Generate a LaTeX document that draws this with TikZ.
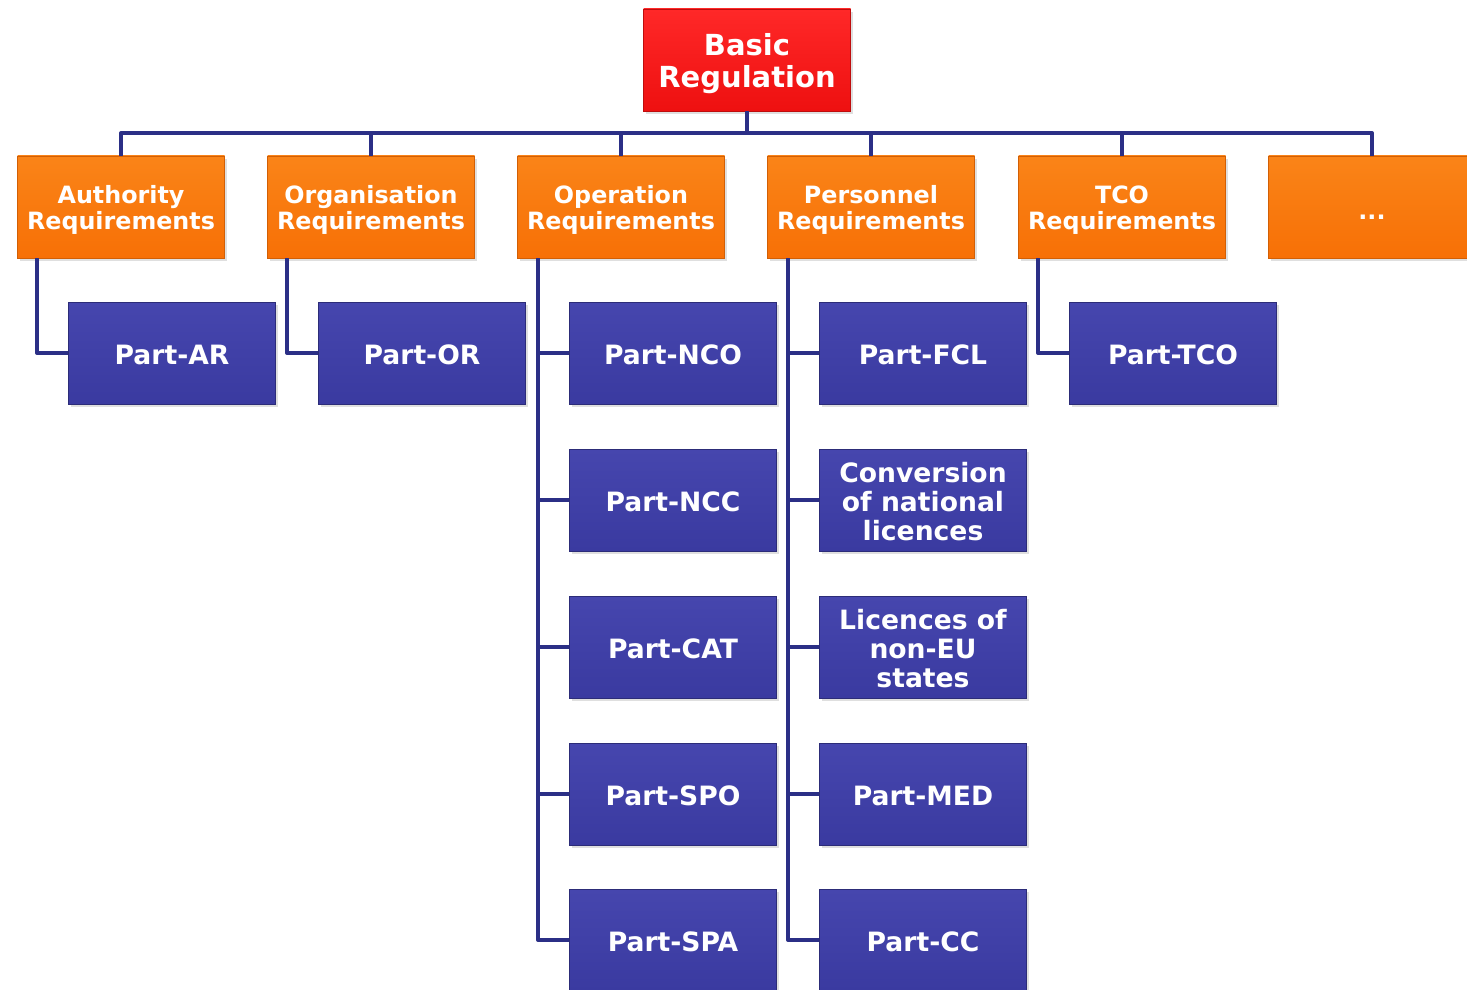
\documentclass[tikz,border=0pt]{standalone}
\usepackage{fontspec}
\setmainfont{DejaVu Sans}
\usetikzlibrary{shadows}
\definecolor{navy}{HTML}{2B2F86}
\definecolor{boxblue}{HTML}{3A3AA0}
\definecolor{boxblueT}{HTML}{4646AE}
\definecolor{boxorange}{HTML}{F77006}
\definecolor{boxorangeT}{HTML}{FA8418}
\definecolor{boxred}{HTML}{EE1010}
\definecolor{boxredT}{HTML}{FF2828}
\tikzset{
  basebox/.style={rectangle, inner sep=0pt, minimum width=103.5pt, minimum height=51pt,
    drop shadow={opacity=0.25, shadow xshift=1pt, shadow yshift=-1.5pt}},
  txt/.style={text=white, align=center, inner sep=0pt},
  redbox/.style={basebox, top color=boxredT, bottom color=boxred, draw=boxred!80!black, line width=0.4pt,
    label={[txt, yshift=-2pt, font=\bfseries\fontsize{14.5pt}{16pt}\selectfont]center:{#1}}},
  orangebox/.style={basebox, top color=boxorangeT, bottom color=boxorange, draw=boxorange!85!black, line width=0.4pt,
    label={[txt, yshift=-1.5pt, font=\bfseries\fontsize{11.9pt}{13pt}\selectfont]center:{#1}}},
  bluebox/.style={basebox, top color=boxblueT, bottom color=boxblue, draw=boxblue!75!black, line width=0.4pt,
    label={[txt, yshift=-1pt, font=\bfseries\fontsize{13.3pt}{14.5pt}\selectfont]center:{#1}}},
  link/.style={draw=navy, line width=2pt, line join=round},
}
\begin{document}
\begin{tikzpicture}[x=0.5pt, y=-0.5pt]
\useasboundingbox (0,0) rectangle (1467,990);
\clip (0,0) rectangle (1467,990);
% root
\node[redbox={Basic\\Regulation}] (br) at (747,60) {};
% second level
\node[orangebox={Authority\\Requirements}] (auth) at (121,207) {};
\node[orangebox={Organisation\\Requirements}] (org)  at (371,207) {};
\node[orangebox={Operation\\Requirements}] (op)   at (621,207) {};
\node[orangebox={Personnel\\Requirements}] (pers) at (871,207) {};
\node[orangebox={TCO\\Requirements}] (tco)  at (1122,207) {};
\node[basebox, top color=boxorangeT, bottom color=boxorange, draw=boxorange!85!black, line width=0.4pt,
  label={[txt, yshift=-5pt, font=\bfseries\fontsize{11.9pt}{13pt}\selectfont]center:{...}}] (dots) at (1372,207) {};
% third level
\node[bluebox={Part-AR}] (ar)  at (172,353) {};
\node[bluebox={Part-OR}] (or)  at (422,353) {};
\node[bluebox={Part-NCO}] (nco) at (673,353) {};
\node[bluebox={Part-NCC}] (ncc) at (673,500) {};
\node[bluebox={Part-CAT}] (cat) at (673,647) {};
\node[bluebox={Part-SPO}] (spo) at (673,794) {};
\node[bluebox={Part-SPA}] (spa) at (673,940) {};
\node[bluebox={Part-FCL}] (fcl) at (923,353) {};
\node[bluebox={Conversion\\of national\\licences}] (conv) at (923,500) {};
\node[bluebox={Licences of\\non-EU\\states}] (lic) at (923,647) {};
\node[bluebox={Part-MED}] (med) at (923,794) {};
\node[bluebox={Part-CC}] (cc)  at (923,940) {};
\node[bluebox={Part-TCO}] (tcop) at (1173,353) {};
% bus
\coordinate (bus) at (747,133);
\draw[link] (br.south) -- (bus);
\draw[link] (auth.north) -- (auth.north |- bus) -- (dots.north |- bus) -- (dots.north);
\foreach \n in {org,op,pers,tco} \draw[link] (\n.north) -- (\n.north |- bus);
% children
\draw[link] ([xshift=10pt]auth.south west) |- (ar.west);
\draw[link] ([xshift=10pt]org.south west) |- (or.west);
\foreach \c in {nco,ncc,cat,spo,spa} \draw[link] ([xshift=10.5pt]op.south west) |- (\c.west);
\foreach \c in {fcl,conv,lic,med,cc} \draw[link] ([xshift=10.5pt]pers.south west) |- (\c.west);
\draw[link] ([xshift=10pt]tco.south west) |- (tcop.west);
\end{tikzpicture}
\end{document}
